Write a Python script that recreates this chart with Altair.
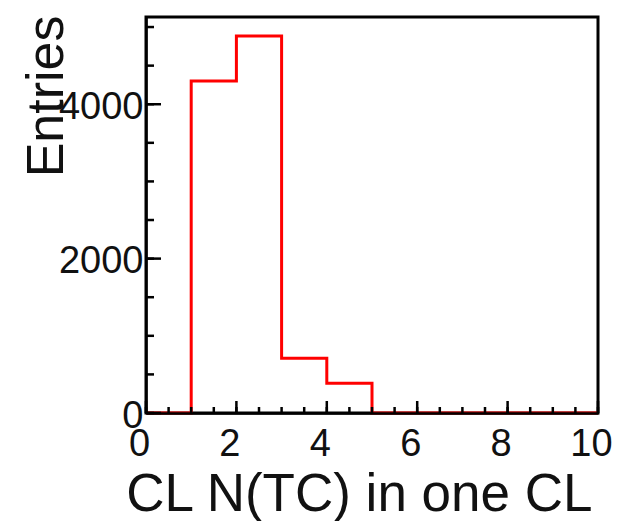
import altair as alt
import pandas as pd

# ---- data ----
bin_edges = [0, 1, 2, 3, 4, 5, 6, 7, 8, 9, 10]
counts = [0, 4300, 4885, 710, 385, 0, 0, 0, 0, 0]
x_major = [0, 2, 4, 6, 8, 10]
x_minor = [0.5 * i for i in range(21)]
y_major = [0, 2000, 4000]
y_minor = [500 * i for i in range(11)]
x_title = "CL N(TC) in one CL"
y_title = "Entries"

W, H = 452, 396
FONT = "Liberation Sans"

hist = pd.DataFrame({"x": bin_edges, "y": counts + [0]})
xs = alt.Scale(domain=[0, 10], nice=False, zero=False)
ys = alt.Scale(domain=[0, 5130], nice=False)

x_axis = alt.Axis(
    values=x_major, format="d", ticks=False, grid=False,
    domain=True, domainColor="#000", domainWidth=2.5, zindex=1,
    labelFont=FONT, labelFontSize=38, labelColor="#111", labelPadding=12,
    labelFlush=False, labelOffset=-7,
    title=x_title, titleFont=FONT, titleFontSize=53, titleFontWeight="normal",
    titleColor="#111", titleX=446, titleY=97, titleAlign="right",
    titleBaseline="alphabetic",
)
y_axis = alt.Axis(
    values=y_major, format="d", ticks=False, grid=False,
    domain=True, domainColor="#000", domainWidth=2.5, zindex=1,
    labelFont=FONT, labelFontSize=38, labelColor="#111", labelPadding=3,
    labelFlush=False, labelOffset=3,
    title=y_title, titleFont=FONT, titleFontSize=52, titleFontWeight="normal",
    titleColor="#111", titleAngle=270, titleX=-84, titleY=-2,
    titleAlign="right", titleBaseline="alphabetic",
)

tick_style = dict(color="#000", strokeWidth=2.5)

xmin_t = alt.Chart(pd.DataFrame({"v": x_minor})).mark_rule(**tick_style).encode(
    x=alt.X("v:Q", scale=xs, axis=x_axis), y=alt.value(H), y2=alt.value(H - 6))
xmaj_t = alt.Chart(pd.DataFrame({"v": x_major})).mark_rule(**tick_style).encode(
    x=alt.X("v:Q", scale=xs, axis=x_axis), y=alt.value(H), y2=alt.value(H - 12))
ymin_t = alt.Chart(pd.DataFrame({"v": y_minor})).mark_rule(**tick_style).encode(
    y=alt.Y("v:Q", scale=ys, axis=y_axis), x=alt.value(0), x2=alt.value(8))
ymaj_t = alt.Chart(pd.DataFrame({"v": y_major})).mark_rule(**tick_style).encode(
    y=alt.Y("v:Q", scale=ys, axis=y_axis), x=alt.value(0), x2=alt.value(15))

line = alt.Chart(hist).mark_line(
    color="#ff0000", strokeWidth=3, interpolate="step-after"
).encode(
    x=alt.X("x:Q", scale=xs, axis=x_axis),
    y=alt.Y("y:Q", scale=ys, axis=y_axis),
)

chart = alt.layer(line, xmin_t, xmaj_t, ymin_t, ymaj_t).properties(
    width=W, height=H, autosize="none",
    padding={"left": 138, "top": 9, "right": 14, "bottom": 108},
    background="white",
).configure_view(stroke="#000", strokeWidth=3)

chart.save("out.html", embed_options={"renderer": "svg", "actions": False})
